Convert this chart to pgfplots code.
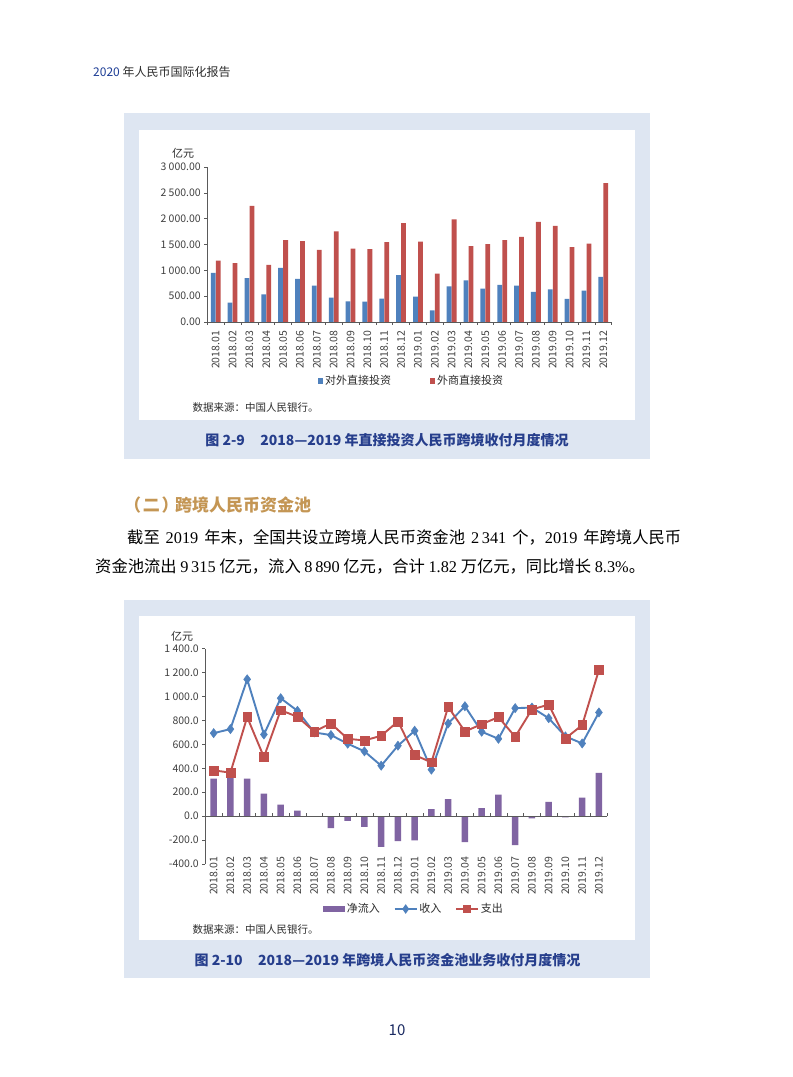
\documentclass[border=0pt]{standalone}
\usepackage{pgfplots}
\pgfplotsset{compat=1.18}
\usepackage{pgfplotstable}
\usepackage{fontspec}
\setmainfont{Noto Sans CJK SC}
\newfontfamily\serifnum{Liberation Serif}
\definecolor{boxbg}{RGB}{222,230,242}
\definecolor{barblue}{RGB}{79,129,189}
\definecolor{barred}{RGB}{192,80,77}
\definecolor{barpurple}{RGB}{128,100,162}
\definecolor{capblue}{RGB}{38,62,140}
\definecolor{headblue}{RGB}{30,62,150}
\definecolor{gold}{RGB}{196,150,84}
\definecolor{txt}{RGB}{45,45,45}
\definecolor{tickgray}{RGB}{64,64,64}
\definecolor{axisgray}{RGB}{90,90,90}

\pgfplotstableread{
x odi fdi
0 950 1189
1 375 1138
2 847 2250
3 537 1105
4 1047 1584
5 834 1564
6 705 1396
7 472 1752
8 401 1422
9 394 1409
10 452 1545
11 905 1913
12 491 1558
13 226 937
14 692 1985
15 808 1467
16 646 1506
17 718 1584
18 705 1648
19 582 1939
20 634 1862
21 446 1448
22 608 1519
23 873 2689
}\tabA

\pgfplotstableread{
x net rec exp
0 314 694 383
1 360 728 364
2 314 1144 828
3 189 683 494
4 97 986 886
5 47 881 831
6 -5 700 708
7 -100 678 775
8 -39 606 647
9 -89 542 633
10 -256 422 672
11 -208 589 792
12 -203 714 511
13 58 389 450
14 142 775 914
15 -217 919 708
16 67 706 769
17 181 647 828
18 -242 903 664
19 -19 908 892
20 119 819 933
21 -11 667 650
22 156 608 761
23 361 867 1222
}\tabB

\pgfplotsset{
  pagechart/.style={
    scale only axis,
    anchor=south west,
    xmin=-0.5, xmax=23.5,
    axis y line*=left,
    axis x line*=bottom,
    x axis line style={draw=none},
    y axis line style={draw=axisgray, line width=0.6pt},
    xtick={0,...,23},
    xticklabels={2018.01,2018.02,2018.03,2018.04,2018.05,2018.06,2018.07,2018.08,2018.09,2018.10,2018.11,2018.12,2019.01,2019.02,2019.03,2019.04,2019.05,2019.06,2019.07,2019.08,2019.09,2019.10,2019.11,2019.12},
    xtick style={draw=none},
    xticklabel style={rotate=90, anchor=east, font=\fontsize{10.5}{10.5}\selectfont, text=tickgray},
    tick align=outside,
    ytick style={draw=axisgray, line width=0.6pt},
    major tick length=3pt,
    yticklabel style={font=\fontsize{10.5}{10.5}\selectfont, text=tickgray},
    /pgf/number format/assume math mode=true,
    clip=false,
    legend style={draw=none, fill=none, font=\fontsize{11}{11}\selectfont, text=txt, legend columns=-1, anchor=center},
  }
}

\begin{document}
\begin{tikzpicture}[x=1pt,y=-1pt]
% page
\fill[white] (0,0) rectangle (793,1077);
% header
\node[anchor=west, inner sep=0pt, font=\fontsize{12}{12}\selectfont] at (93,72) {\textcolor{headblue}{2020} \textcolor{txt}{年人民币国际化报告}};

% ---------- box 1 ----------
\fill[boxbg] (124,113) rectangle (650,459);
\fill[white] (139,130) rectangle (635,420);
\node[font=\fontsize{11}{11}\selectfont, text=txt, inner sep=0pt] at (183,153) {亿元};

\begin{axis}[pagechart,
  at={(207.3pt,-322pt)}, width=404.4pt, height=155pt,
  ymin=0, ymax=3000, ytick={0,500,...,3000},
  yticklabel style={/pgf/number format/.cd, fixed, fixed zerofill, precision=2, 1000 sep={\hspace{0.22em}}},
  xticklabel shift=2.5pt,
  legend style={at={(0.505,-0.381)}, /tikz/every even column/.append style={column sep=37pt}},
  legend image code/.code={\fill[#1, draw=none] (0pt,-2.6pt) rectangle (5.2pt,2.6pt);},
]
\addplot[ybar, bar width=4.8pt, bar shift=-2.5pt, fill=barblue, draw=none] table[x=x, y=odi] {\tabA};
\addplot[ybar, bar width=4.8pt, bar shift=2.5pt, fill=barred, draw=none] table[x=x, y=fdi] {\tabA};
\draw[axisgray, line width=0.6pt] (axis cs:-0.5,0) -- (axis cs:23.5,0);
\pgfplotsinvokeforeach{-0.5,0.5,1.5,2.5,3.5,4.5,5.5,6.5,7.5,8.5,9.5,10.5,11.5,12.5,13.5,14.5,15.5,16.5,17.5,18.5,19.5,20.5,21.5,22.5,23.5}{
  \draw[axisgray, line width=0.6pt] (axis cs:#1,0) -- ++(0pt,-3pt);
}
\legend{对外直接投资,外商直接投资}
\end{axis}

\node[anchor=west, inner sep=0pt, font=\fontsize{10.5}{10.5}\selectfont, text=txt] at (192.5,408) {数据来源：中国人民银行。};
\node[font=\fontsize{14}{14}\selectfont\bfseries, text=capblue, inner sep=0pt] at (387,440) {图 2-9\hspace{1.1em}2018—2019 年直接投资人民币跨境收付月度情况};

% ---------- text ----------
\node[anchor=west, inner sep=0pt, font=\fontsize{17}{17}\selectfont\bfseries, text=gold] at (124,505) {（\hspace{0.1em}二\hspace{0.1em}）};
\node[anchor=west, inner sep=0pt, font=\fontsize{17}{17}\selectfont\bfseries, text=gold] at (175,505) {跨境人民币资金池};
\node[anchor=west, inner sep=0pt, font=\fontsize{16.3}{16.3}\selectfont, text=black] at (127,537) {\makebox[554pt][s]{截至 {\serifnum 2019} 年末，全国共设立跨境人民币资金池 {\serifnum 2\,341} 个，{\serifnum 2019} 年跨境人民币}};
\node[anchor=west, inner sep=0pt, font=\fontsize{16.3}{16.3}\selectfont, text=black] at (95,566) {资金池流出 {\serifnum 9\,315} 亿元，流入 {\serifnum 8\,890} 亿元，合计 {\serifnum 1.82} 万亿元，同比增长 {\serifnum 8.3\%}。};

% ---------- box 2 ----------
\fill[boxbg] (124,600) rectangle (650,978);
\fill[white] (139,616) rectangle (635,940);
\node[font=\fontsize{11}{11}\selectfont, text=txt, inner sep=0pt] at (182,636) {亿元};

\begin{axis}[pagechart,
  at={(205.3pt,-864pt)}, width=402pt, height=215.3pt,
  ymin=-400, ymax=1400, ytick={-400,-200,...,1400},
  yticklabel style={/pgf/number format/.cd, fixed, fixed zerofill, precision=1, 1000 sep={\hspace{0.22em}}},
  xticklabel shift=-13.5pt,
  legend style={at={(0.519,-0.209)}, /tikz/every even column/.append style={column sep=12pt}},
]
\addplot[ybar, bar width=6.6pt, bar shift=0pt, fill=barpurple, draw=none,
  legend image code/.code={\fill[barpurple] (0pt,-3pt) rectangle (22pt,3pt);}] table[x=x, y=net] {\tabB};
\draw[axisgray, line width=0.6pt] (axis cs:-0.5,0) -- (axis cs:23.5,0);
\pgfplotsinvokeforeach{-0.5,0.5,1.5,2.5,3.5,4.5,5.5,6.5,7.5,8.5,9.5,10.5,11.5,12.5,13.5,14.5,15.5,16.5,17.5,18.5,19.5,20.5,21.5,22.5,23.5}{
  \draw[axisgray, line width=0.6pt] (axis cs:#1,0) -- ++(0pt,3pt);
}
\addplot[color=barblue, line width=1.9pt, mark=diamond*, mark size=4.6pt, mark options={solid, fill=barblue, line width=0.5pt},
  legend image code/.code={\draw[barblue, line width=1.5pt] (0pt,0pt) -- (22pt,0pt); \fill[barblue] (11pt,3.2pt) -- (13.3pt,0pt) -- (11pt,-3.2pt) -- (8.7pt,0pt) -- cycle;}] table[x=x, y=rec] {\tabB};
\addplot[color=barred, line width=1.9pt, mark=square*, mark size=4.4pt, mark options={solid, fill=barred, line width=0.5pt},
  legend image code/.code={\draw[barred, line width=1.5pt] (0pt,0pt) -- (22pt,0pt); \fill[barred] (8pt,-3pt) rectangle (14pt,3pt);}] table[x=x, y=exp] {\tabB};
\legend{净流入,收入,支出}
\end{axis}

\node[anchor=west, inner sep=0pt, font=\fontsize{10.5}{10.5}\selectfont, text=txt] at (192.5,929.5) {数据来源：中国人民银行。};
\node[font=\fontsize{14}{14}\selectfont\bfseries, text=capblue, inner sep=0pt] at (387.5,960) {图 2-10\hspace{1.1em}2018—2019 年跨境人民币资金池业务收付月度情况};

% page number
\node[font=\fontsize{15}{15}\selectfont, text=capblue!70!black, inner sep=0pt] at (397,1030) {10};
\end{tikzpicture}
\end{document}
